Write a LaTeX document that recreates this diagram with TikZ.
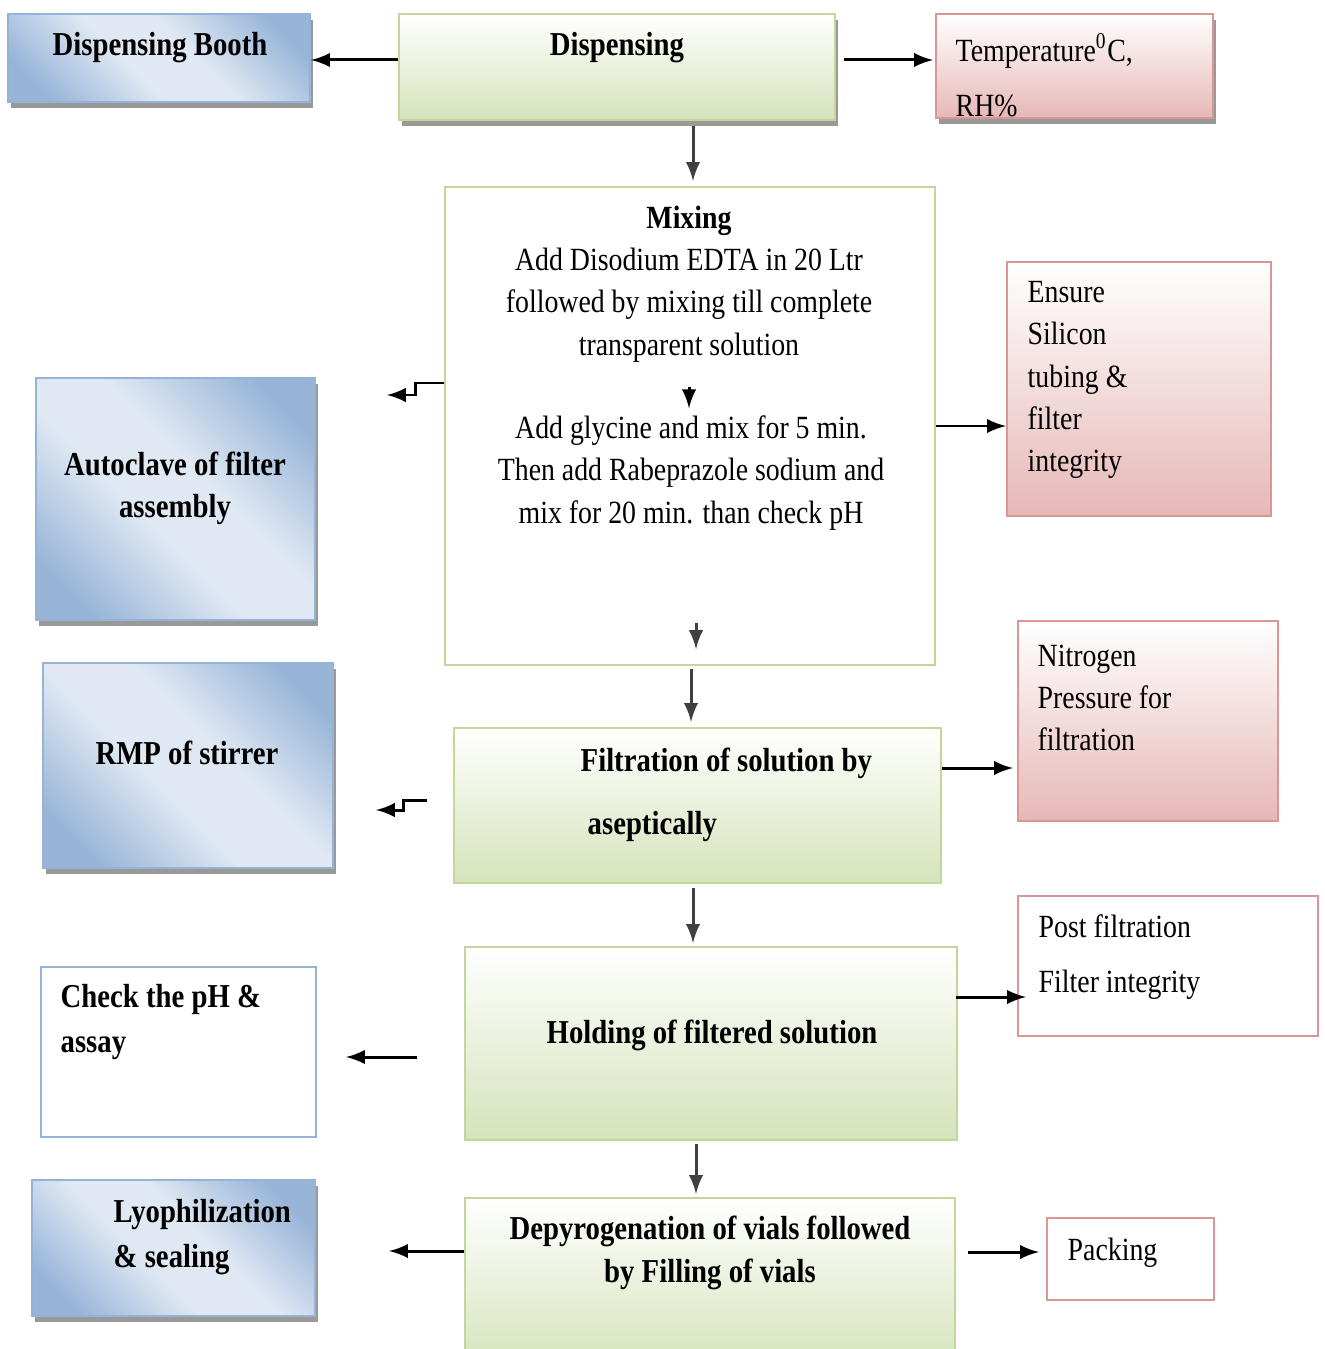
\documentclass[tikz,border=0pt]{standalone}
\usepackage{fontspec}
\setmainfont{Liberation Serif}[FakeStretch=0.86]
\usetikzlibrary{fit, calc, shadows}

\definecolor{grnline}{RGB}{195,214,155}
\definecolor{grnfill}{RGB}{213,227,186}
\definecolor{redline}{RGB}{217,150,148}
\definecolor{redfill}{RGB}{230,184,183}
\definecolor{bluline}{RGB}{149,179,215}
\definecolor{bludark}{RGB}{152,181,216}
\definecolor{blulight}{RGB}{223,232,243}

\pgfdeclareverticalshading{bludiag}{100bp}{color(0bp)=(bludark); color(23bp)=(bludark); color(43bp)=(blulight); color(57bp)=(blulight); color(77bp)=(bludark); color(100bp)=(bludark)}

\tikzset{
	box/.style={draw, line width=0.6pt, inner sep=0pt},
	grnbox/.style={box, draw=grnline, top color=white, bottom color=grnfill},
	mixbox/.style={box, draw=grnline, fill=white},
	redbox/.style={box, draw=redline, top color=white, bottom color=redfill},
	wredbox/.style={box, draw=redline, fill=white},
	wblubox/.style={box, draw=bluline, fill=white},
	blubox/.style={box, draw=bluline, shading=bludiag, shading angle=-45},
	shadowed/.style={drop shadow={shadow xshift=0.9pt, shadow yshift=-1.7pt, fill=black!40, opacity=1}},
	txt/.style={inner sep=0pt, font=\fontsize{9.2}{#1}\selectfont}, txt/.default=12,
	btxt/.style={inner sep=0pt, font=\fontsize{9.5}{#1}\selectfont\bfseries}, btxt/.default=12,
	arr/.style={->, line width=0.85pt},
	varr/.style={arr, black!75},
}

\begin{document}
\begin{tikzpicture}[x=0.01cm, y=-0.01cm, >=latex]
	\useasboundingbox (0,0) rectangle (1325,1349);

	% boxes
	\node[blubox, shadowed, fit={(8,14) (310,102)}] (booth) {};
	\node[grnbox, shadowed, fit={(399,14) (835,120)}] (disp) {};
	\node[redbox, shadowed, fit={(936,14) (1213,118)}] (temp) {};
	\node[mixbox, fit={(445,187) (935,665)}] (mix) {};
	\node[redbox, fit={(1007,262) (1271,516)}] (ensure) {};
	\node[blubox, shadowed, fit={(36,378) (315,620)}] (auto) {};
	\node[blubox, shadowed, fit={(43,663) (333,868)}] (rmp) {};
	\node[grnbox, fit={(454,728) (941,883)}] (filt) {};
	\node[redbox, fit={(1018,621) (1278,821)}] (nitro) {};
	\node[wredbox, fit={(1018,896) (1318,1036)}] (post) {};
	\node[grnbox, fit={(465,947) (957,1140)}] (hold) {};
	\node[wblubox, fit={(41,967) (316,1137)}] (check) {};
	\node[blubox, shadowed, fit={(32,1180) (315,1316)}] (lyo) {};
	\node[grnbox, fit={(465,1198) (955,1370)}] (depy) {};
	\node[wredbox, fit={(1047,1218) (1214,1300)}] (pack) {};

	% texts
	\node[btxt] (booth-t) at (160,48) {Dispensing Booth};
	\node[btxt] (disp-t) at (617,48) {Dispensing};
	\node[txt=15.6, anchor=west, align=left] (temp-t) at (955,75) {Temperature\textsuperscript{0}C,\\RH\%};
	\node[txt, align=center] (mix-a) at (689,284) {\textbf{Mixing}\\Add Disodium EDTA in 20 Ltr\\followed by mixing till complete\\transparent solution};
	\node[txt, align=center] (mix-b) at (691,473) {Add glycine and mix for 5 min.\\Then add Rabeprazole sodium and\\mix for 20 min. than check pH};
	\node[txt, anchor=west, align=left] (ensure-t) at (1027,380) {Ensure\\Silicon\\tubing \&\\filter\\integrity};
	\node[btxt, align=center] (auto-t) at (175,488) {Autoclave of filter\\assembly};
	\node[btxt] (rmp-t) at (187,753) {RMP of stirrer};
	\node[btxt=18, anchor=west, align=left] (filt-t) at (580,795) {Filtration of solution by\\\hspace*{0.07cm}aseptically};
	\node[txt, anchor=west, align=left] (nitro-t) at (1037,698) {Nitrogen\\Pressure for\\filtration};
	\node[txt=15.6, anchor=west, align=left] (post-t) at (1038,957) {Post filtration\\Filter integrity};
	\node[btxt] (hold-t) at (712,1035) {Holding of filtered solution};
	\node[btxt=12.8, anchor=west, align=left] (check-t) at (60,1022) {Check the pH \&\\assay};
	\node[btxt=12.8, anchor=west, align=left] (lyo-t) at (113,1237) {Lyophilization\\\& sealing};
	\node[btxt, align=center] (depy-t) at (710,1253) {Depyrogenation of vials followed\\by Filling of vials};
	\node[txt, anchor=west] (pack-t) at (1067,1253) {Packing};

	% connectors
	\draw[arr] ($(disp.west)+(0,-7)$) -- ($(booth.east)+(0,2)$);
	\draw[arr] ($(disp.east)+(8,-7)$) -- ($(temp.west)+(-2,-6)$);
	\draw[varr] ($(disp.south)+(76,5)$) -- ($(mix.north)+(3,-5)$);
	\draw[arr] (mix.east) -- ($(ensure.west)+(0,37)$);
	\draw[arr, shorten <=0.24cm, shorten >=0.07cm] (mix-a.south) -- (mix-a.south |- mix-b.north);
	\draw[varr] ($(mix.south)+(6,-43)$) -- ($(mix.south)+(6,-17)$);
	\draw[arr] ($(mix.west)+(0,-43)$) -- ++(-28,0) -- ++(0,12) -- ++(-29,0);
	\draw[varr] ($(mix.south)+(1,3)$) -- ($(filt.north)+(-6.5,-5)$);
	\draw[arr] ($(filt.east)+(0,-37.5)$) -- ($(nitro.west)+(-4,47)$);
	\draw[arr] ($(filt.west)+(-26,-5.5)$) -- ++(-23,0) -- ++(0,10) -- ++(-28,0);
	\draw[varr] ($(filt.south)+(-4.5,4)$) -- ($(hold.north)+(-18,-3)$);
	\draw[arr] ($(hold.east)+(-2,-46.5)$) -- ($(post.west)+(9,31)$);
	\draw[arr] ($(hold.west)+(-47,13.5)$) -- ($(check.east)+(29,5)$);
	\draw[varr] ($(hold.south)+(-15,3)$) -- ($(depy.north)+(-14,-3)$);
	\draw[arr] ($(depy.west)+(0,-33)$) -- ($(lyo.east)+(73,3)$);
	\draw[arr] ($(depy.east)+(12,-32)$) -- ($(pack.west)+(-7,-7)$);
\end{tikzpicture}
\end{document}
